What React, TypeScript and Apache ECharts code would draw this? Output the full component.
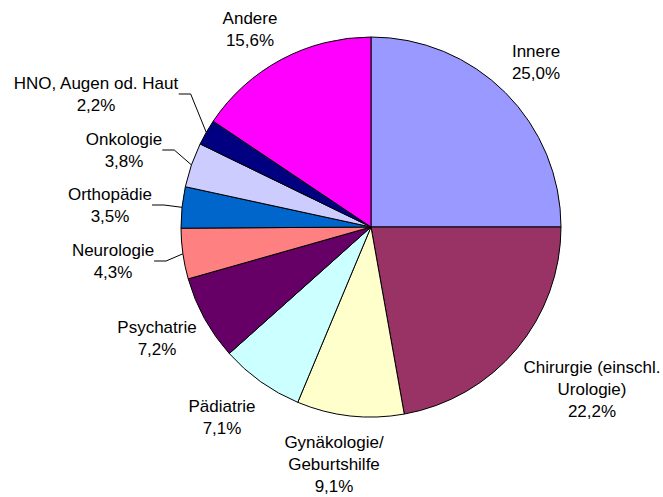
import React, { useEffect, useRef } from "react";
import * as echarts from "echarts";

const categories: string[] = [
  "Innere",
  "Chirurgie (einschl.\nUrologie)",
  "Gynäkologie/\nGeburtshilfe",
  "Pädiatrie",
  "Psychatrie",
  "Neurologie",
  "Orthopädie",
  "Onkologie",
  "HNO, Augen od. Haut",
  "Andere",
];
const shares: number[] = [25.0, 22.2, 9.1, 7.1, 7.2, 4.3, 3.5, 3.8, 2.2, 15.6];
const colors: string[] = [
  "#9999FF",
  "#993366",
  "#FFFFCC",
  "#CCFFFF",
  "#660066",
  "#FF8080",
  "#0066CC",
  "#CCCCFF",
  "#000080",
  "#FF00FF",
];
const withLeader: boolean[] = [false, false, false, false, false, true, true, true, true, false];

// label box centres (layout only)
const labelCenters: [number, number][] = [
  [536, 62],
  [592, 389],
  [334, 464],
  [222, 417],
  [157, 338],
  [113, 261],
  [110, 205],
  [124, 150],
  [96, 94],
  [250, 29],
];

export default function App() {
  const ref = useRef<HTMLDivElement>(null);
  useEffect(() => {
    document.body.style.margin = "0";
    if (!ref.current) return;
    const chart = echarts.init(ref.current, null, { renderer: "svg" });
    chart.setOption({
      animation: false,
      backgroundColor: "#ffffff",
      series: [
        {
          type: "pie",
          center: [371, 227],
          radius: 190,
          startAngle: 90,
          clockwise: true,
          avoidLabelOverlap: false,
          itemStyle: { borderColor: "#000000", borderWidth: 1 },
          emphasis: { disabled: true },
          label: {
            show: true,
            position: "outside",
            color: "#000000",
            fontFamily: "Liberation Sans, Arial, sans-serif",
            fontSize: 17,
            lineHeight: 22,
            align: "center",
            formatter: (p: any) =>
              `${p.name}\n${Number(p.value).toFixed(1).replace(".", ",")}%`,
          },
          labelLine: {
            show: true,
            length: 8,
            length2: 12,
            lineStyle: { color: "#000000", width: 1 },
          },
          labelLayout: (p: any) => {
            const c = labelCenters[p.dataIndex];
            return { x: c[0], y: c[1], align: "center", verticalAlign: "middle" };
          },
          data: categories.map((name, i) => ({
            name,
            value: shares[i],
            itemStyle: { color: colors[i] },
            labelLine: { show: withLeader[i] },
          })),
        },
      ],
    });
    return () => chart.dispose();
  }, []);
  return <div ref={ref} style={{ width: 663, height: 497 }} />;
}
